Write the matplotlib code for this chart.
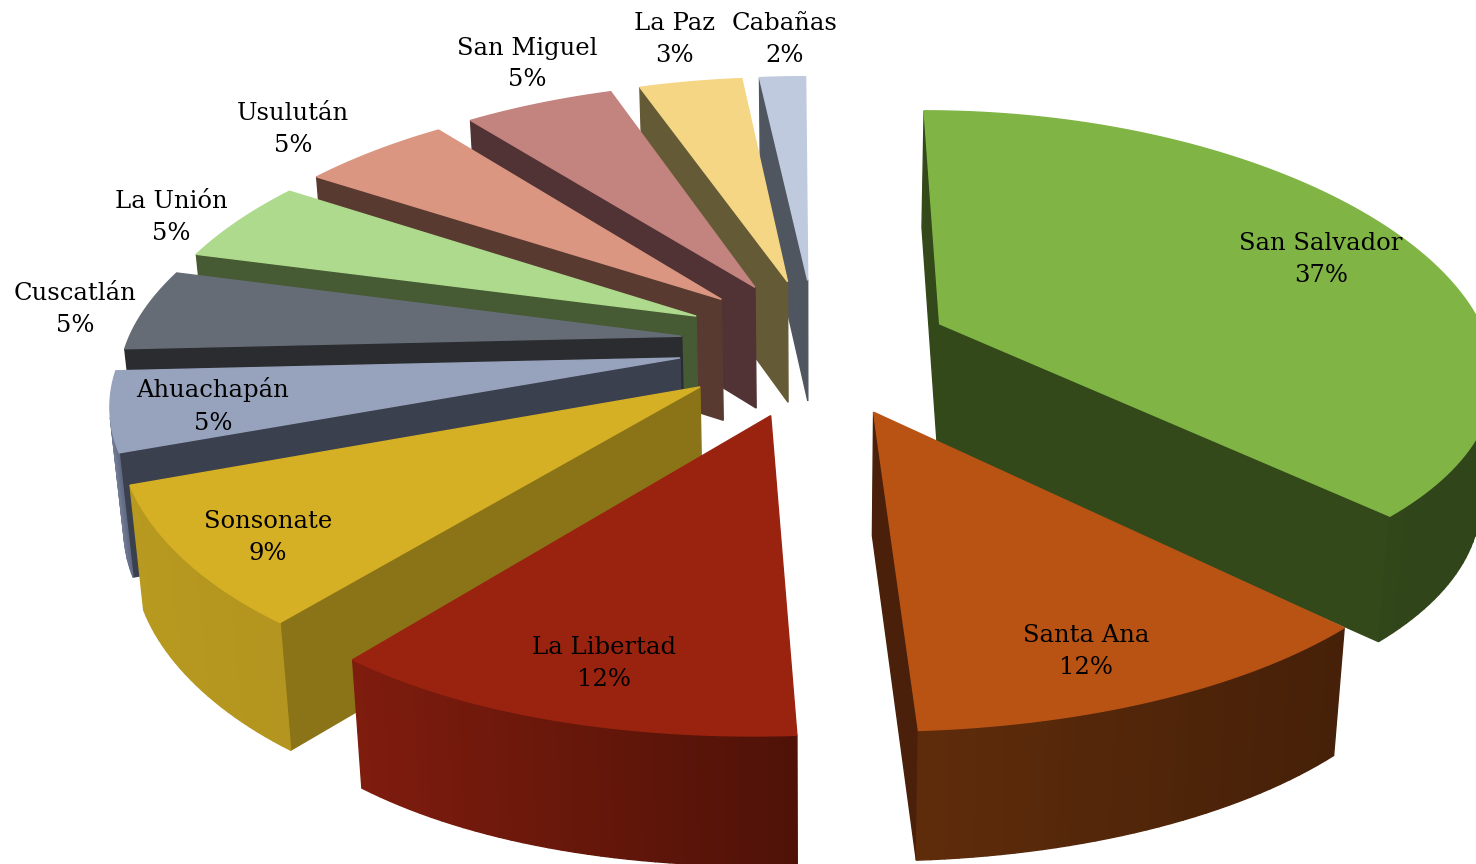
import numpy as np
import matplotlib
matplotlib.use("Agg")
import matplotlib.pyplot as plt

names = ["San Salvador", "Santa Ana", "La Libertad", "Sonsonate", "Ahuachapán",
         "Cuscatlán", "La Unión", "Usulután", "San Miguel", "La Paz", "Cabañas"]
# shares, labels show them rounded
percent = [37, 12, 12, 9, 5, 5, 5, 5, 5, 3.45, 1.55]

top_col = ["#80b546", "#b85314", "#9a2310", "#d5b024", "#97a2bc", "#666c75",
           "#aeda8d", "#da9680", "#c3837f", "#f4d684", "#c0cadf"]
side_col = ["#33491a", "#4a200a", "#5a1408", "#8b7317", "#3b404f", "#2a2c30",
            "#465a33", "#583a30", "#513235", "#645a35", "#50565f"]
wall_l = ["#33491a", "#5f2c0b", "#7f1c0e", "#b89a20", "#7f8aa3", "#555a62",
          "#8fb574", "#b57c6a", "#a26c69", "#cbb26d", "#9fa8ba"]
wall_r = ["#30461a", "#452008", "#4f1207", "#b3951f", "#6d7790", "#4a4e55",
          "#7fa266", "#a06d5d", "#8f5f5c", "#b49e60", "#8d95a5"]

label_x = [1321, 1086, 604, 268, 213, 75, 171, 293, 527, 674, 785]
label_y = [260, 652, 664, 538, 406, 310, 218, 130, 64, 39, 39]

# camera / layout
cx, cy = 814, 347
scale = 490
tilt = 0.515
persp = 0.149
height = 122
explode = 0.275
stretch = 1.13
rim_shift = -0.0075
sag = 0.05
front_pull = 0.008
bump = 0.031      # front-left of the rim sits closer in
bump_at = np.radians(235)
bump_w = np.radians(30)
back_bump = -0.019  # back-left of the rim sits further out
back_at = np.radians(320)
back_w = np.radians(40)
shrink = 0.02
# San Salvador sits a little off the others
nudge_x = [4, 0, 0, 0, 0, 0, 0, 0, 0, 0, 0]
nudge_y = [4, 0, 0, 0, 0, 0, 0, 0, 0, 0, 0]


def project(X, Y, low=False):
    X = np.asarray(X, dtype=float)
    Y = np.asarray(Y, dtype=float)
    w = 1 + persp * Y
    px = cx + scale * X / w
    py = cy - scale * tilt * Y / w
    if low:
        px = cx + (px - cx) * (1 - shrink)
        py = py + height * w ** -0.3
    return px, py


def area(px, py):
    return 0.5 * np.sum(px * np.roll(py, -1) - np.roll(px, -1) * py)


def mix(c1, c2, f):
    a = np.array(matplotlib.colors.to_rgb(c1))
    b = np.array(matplotlib.colors.to_rgb(c2))
    return a + (b - a) * f


def face(ax, px, py, col, z, i):
    ax.fill(px + nudge_x[i], py + nudge_y[i], color=col, lw=1.0, zorder=z)


fig = plt.figure(figsize=(14.76, 8.64), dpi=100)
ax = fig.add_axes([0, 0, 1, 1])
ax.set_xlim(0, 1476)
ax.set_ylim(864, 0)
ax.axis("off")

edges = np.cumsum([0] + percent) / 100 * 2 * np.pi
draw_order = [10, 9, 8, 7, 6, 5, 4, 3, 0, 2, 1]

for z, i in enumerate(draw_order):
    a0, a1 = edges[i], edges[i + 1]
    mid = (a0 + a1) / 2
    ox, oy = explode * np.sin(mid), explode * np.cos(mid)
    t = np.linspace(a0, a1, max(8, int(percent[i] * 3)))
    X = ox + rim_shift * (1 - np.cos(t)) + stretch * np.sin(t)
    X = X + bump * np.exp(-((t - bump_at) / bump_w) ** 2)
    X = X + back_bump * np.exp(-((t - back_at) / back_w) ** 2)
    Y = oy + np.cos(t) - sag * np.sin(t) ** 2 + front_pull * np.maximum(0, -np.cos(t))
    tx, ty = project(X, Y)
    bx, by = project(X, Y, low=True)
    ax_, ay_ = project(ox, oy)
    alx, aly = project(ox, oy, low=True)

    # straight side walls, only those turned to the camera
    for ex, ey, elx, ely, sign in [(tx[0], ty[0], bx[0], by[0], 1),
                                   (tx[-1], ty[-1], bx[-1], by[-1], -1)]:
        qx = np.array([ax_, ex, elx, alx])
        qy = np.array([ay_, ey, ely, aly])
        if sign * area(qx, qy) < 0:
            face(ax, qx, qy, side_col[i], z, i)

    # outer wall as thin strips for the shading
    n = len(t) - 1
    for k in range(n):
        qx = np.array([tx[k], tx[k + 1], bx[k + 1], bx[k]])
        qy = np.array([ty[k], ty[k + 1], by[k + 1], by[k]])
        if area(qx, qy) < 0:
            # shade runs left to right on screen
            f = (qx.mean() - tx.min()) / (tx.max() - tx.min())
            face(ax, qx, qy, mix(wall_l[i], wall_r[i], f), z, i)

    face(ax, np.r_[ax_, tx], np.r_[ay_, ty], top_col[i], z, i)

for name, p, lx, ly in zip(names, percent, label_x, label_y):
    ax.text(lx, ly, "%s\n%d%%" % (name, round(p)), ha="center", va="center",
            fontsize=17.5, family="DejaVu Serif", color="black",
            linespacing=1.5, zorder=50)

fig.savefig("out.png", dpi=100)
